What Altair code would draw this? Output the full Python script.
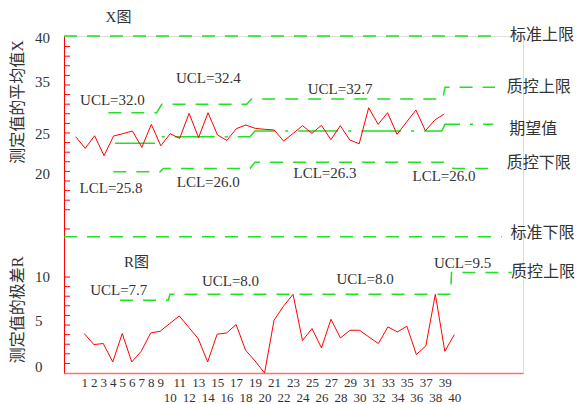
import altair as alt
import pandas as pd

# ---------------- data (in the chart's own y units) ----------------
samples = list(range(1, 41))

xbar_values = [24.61, 23.40, 24.71, 22.63, 24.68, 24.93, 25.20, 23.50, 25.90, 23.67,
               24.92, 24.44, 27.05, 24.50, 27.11, 24.79, 24.23, 25.45, 25.83, 25.48,
               25.38, 25.31, 24.16, 24.95, 25.76, 24.96, 25.80, 24.30, 25.76, 24.27,
               23.88, 27.63, 25.90, 27.11, 24.86, 26.12, 27.39, 25.23, 26.35, 26.98]

r_values = [4.11, 2.96, 3.07, 1.15, 4.11, 1.15, 2.26, 4.17, 4.35, 5.15,
            5.94, 4.77, 3.59, 1.15, 4.04, 4.17, 5.05, 2.37, 1.25, 0.00,
            5.50, 6.96, 8.20, 3.38, 4.63, 2.61, 5.60, 3.65, 4.45, 4.45,
            3.75, 3.07, 4.80, 4.28, 4.87, 1.92, 2.82, 8.20, 2.26, 4.00]

# step-shaped control limits (vertex sample positions / values)
x_ucl_n = [4.45, 9.57, 10.10, 19.09, 19.62, 39.83, 40.08, 45.37]
x_ucl_v = [27.11, 27.11, 27.99, 27.99, 28.54, 28.54, 29.76, 29.76]
x_cl_n = [5.16, 9.57, 10.10, 19.44, 19.97, 39.73, 40.08, 45.19]
x_cl_v = [23.92, 23.92, 24.61, 24.61, 25.20, 25.20, 25.90, 25.90]
x_lcl_n = [4.98, 9.92, 10.27, 19.44, 19.97, 40.08, 40.96, 45.72]
x_lcl_v = [20.96, 20.96, 21.31, 21.31, 21.94, 21.94, 21.31, 21.31]
std_up_n = [-0.24, 45.05]
std_up_v = [35.1, 35.1]
std_lo_n = [-0.24, 46.07]
std_lo_v = [14.18, 14.18]
r_ucl_n = [4.76, 9.85, 10.03, 39.62, 39.70, 46.05]
r_ucl_v = [7.58, 7.58, 8.20, 8.20, 10.47, 10.47]

# annotations
x_notes = ["X图", "UCL=32.0", "UCL=32.4", "UCL=32.7", "LCL=25.8", "LCL=26.0", "LCL=26.3", "LCL=26.0"]
x_notes_n = [5.53, 4.89, 15.03, 28.97, 4.74, 15.03, 27.38, 39.97]
x_notes_v = [37.08, 28.44, 30.70, 29.55, 19.24, 19.93, 20.80, 20.52]
x_legend = ["标准上限", "质控上限", "期望值", "质控下限", "标准下限"]
x_legend_n = [46.95, 46.60, 46.88, 46.60, 47.02]
x_legend_v = [35.21, 29.76, 25.39, 21.84, 14.55]

r_notes = ["R图", "UCL=7.7", "UCL=8.0", "UCL=8.0", "UCL=9.5"]
r_notes_n = [6.50, 4.63, 16.41, 30.59, 40.87]
r_notes_v = [11.59, 8.65, 9.61, 9.76, 11.43]
r_legend = ["质控上限"]
r_legend_n = [45.98]
r_legend_v = [10.50]

y_tick_values = list(range(1, 11)) + [15] + list(range(17, 35))
y_label_text = ["40", "35", "25", "20", "10", "5", "0"]
y_label_pos = [34.86, 30.34, 24.90, 20.73, 10.03, 5.42, 0.66]
y_titles = ["测定值的平均值X", "测定值的极差R"]
y_titles_pos = [28.23, 6.56]

# ---------------- styling ----------------
RED = "#ff0000"
GREEN = "#22e022"
TXT = "#333333"
LATIN = "Liberation Serif, Noto Sans CJK SC"
CJK = "Noto Sans CJK SC"

Y = lambda f="v": alt.Y(f"{f}:Q", scale=alt.Scale(domain=[0, 35.1], nice=False, zero=False),
                        axis=alt.Axis(title=None, domainColor=RED, domainWidth=1,
                                      ticks=False, labels=False, grid=False))
X_TOP = alt.X("n:Q", scale=alt.Scale(domain=[-0.24, 48.33], nice=False, zero=False), axis=None)
X_BOT = alt.X("n:Q", scale=alt.Scale(domain=[-1.14, 47.24], nice=False, zero=False),
              axis=alt.Axis(title=None, values=samples, grid=False, ticks=False,
                            domainColor="#ff7070", domainWidth=1.5,
                            labelFont="Liberation Serif", labelFontSize=13, labelColor=TXT,
                            labelAngle=0, labelPadding=3, labelLineHeight=15,
                            labelOverlap=False, labelFlush=False, labelBound=False,
                            labelExpr="datum.value >= 10 && datum.value % 2 == 0 ? ['', datum.label] : datum.label"))


def poly(ns, vs, xenc, dash, color=GREEN, width=1.5):
    df = pd.DataFrame({"n": ns, "v": vs, "i": range(len(ns))})
    return alt.Chart(df).mark_line(color=color, strokeWidth=width, strokeDash=dash).encode(
        x=xenc, y=Y(), order="i:Q")


def texts(labels, ns, vs, xenc, font, size, align="center"):
    df = pd.DataFrame({"t": labels, "n": ns, "v": vs})
    return alt.Chart(df).mark_text(font=font, fontSize=size, color=TXT, align=align,
                                   baseline="middle").encode(x=xenc, y=Y(), text="t:N")


xbar_df = pd.DataFrame({"n": samples, "v": xbar_values})
r_df = pd.DataFrame({"n": samples, "v": r_values})

top = alt.layer(
    poly(std_up_n, std_up_v, X_TOP, [13, 10]),
    poly(std_lo_n, std_lo_v, X_TOP, [13, 10]),
    poly(x_ucl_n, x_ucl_v, X_TOP, [13, 10]),
    poly(x_cl_n, x_cl_v, X_TOP, [40, 10, 3, 10]),
    poly(x_lcl_n, x_lcl_v, X_TOP, [13, 10]),
    alt.Chart(xbar_df).mark_line(color=RED, strokeWidth=1).encode(x=X_TOP, y=Y()),
    texts(x_notes, x_notes_n, x_notes_v, X_TOP, LATIN, 15),
    texts(x_legend, x_legend_n, x_legend_v, X_TOP, CJK, 16, align="left"),
)

ticks_df = pd.DataFrame({"v": y_tick_values})
ylab_df = pd.DataFrame({"t": y_label_text, "v": y_label_pos})
ytit_df = pd.DataFrame({"t": y_titles, "v": y_titles_pos})

bottom = alt.layer(
    poly(r_ucl_n, r_ucl_v, X_BOT, [13, 10]),
    alt.Chart(r_df).mark_line(color=RED, strokeWidth=1).encode(x=X_BOT, y=Y()),
    texts(r_notes, r_notes_n, r_notes_v, X_BOT, LATIN, 15),
    texts(r_legend, r_legend_n, r_legend_v, X_BOT, CJK, 16, align="left"),
    alt.Chart(ticks_df).mark_rule(color=RED, strokeWidth=1).encode(
        y=Y(), x=alt.value(0), x2=alt.value(6)),
    alt.Chart(ylab_df).mark_text(font="Liberation Serif", fontSize=15, color=TXT,
                                 align="left", baseline="middle").encode(
        y=Y(), x=alt.value(-29), text="t:N"),
    alt.Chart(ytit_df).mark_text(font=LATIN, fontSize=16, color=TXT, angle=270,
                                 align="center", baseline="middle").encode(
        y=Y(), x=alt.value(-46), text="t:N"),
)

chart = alt.layer(top, bottom).resolve_scale(x="independent").properties(
    width=459, height=337,
    autosize=alt.AutoSizeParams(type="none"),
    padding={"left": 56, "top": 28, "right": 52, "bottom": 31},
).configure_view(stroke=None).configure(background="white")

chart.save("out.html", embed_options={"renderer": "svg", "actions": False})
